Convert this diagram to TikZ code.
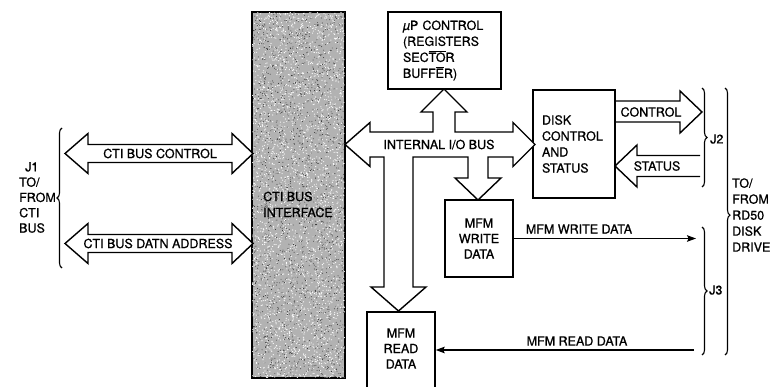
\documentclass[tikz,border=0pt]{standalone}
\usepackage{fontspec}
\setmainfont{TeX Gyre Heros}[FakeBold=0.9]
\usetikzlibrary{arrows.meta,decorations.pathreplacing,calc}
\newcommand\ovbar[1]{\setbox0\hbox{#1}\rlap{\raisebox{\dimexpr\ht0+1.3pt\relax}{\rule{\wd0}{0.6pt}}}\box0}
\begin{document}
\begin{tikzpicture}[x=1pt,y=-1pt,
  every node/.style={font=\fontsize{12.5}{16}\selectfont, inner sep=0pt},
  box/.style={draw, line width=1.4pt},
  blk/.style={draw, line width=1.4pt, line join=miter, fill=white},
  brc/.style={draw, line width=1.1pt, decorate, decoration={brace, amplitude=5pt}},
  sig/.style={draw, line width=1.4pt, -{Stealth[length=9pt,width=6.5pt,inset=1.5pt]}},
]
\useasboundingbox (0,0) rectangle (779,387);
\clip (0,0) rectangle (779,387);

% CTI bus interface (stippled)
\node[box, fill=black!30, minimum width=93pt, minimum height=366pt] (ifc) at (298.5,195) {};
\pgfmathsetseed{7}
\begin{scope}
\clip (252,12) rectangle (345,378);
\foreach \i in {1,...,3000} {\fill[white] ({252+93*rnd},{12+366*rnd}) circle (0.6);}
\foreach \i in {1,...,1800} {\fill[black!85] ({252+93*rnd},{12+366*rnd}) circle (0.45);}
\end{scope}
\draw[line width=1.4pt] (ifc.north west) rectangle (ifc.south east);
\node[align=left, anchor=west] (ifclbl) at (263,204.5) {CTI BUS\\INTERFACE};

% CTI side block arrows
\draw[blk] (65,153.5) -- (88,133.5) -- (88,144.5) -- (232,144.5) -- (232,133.5) -- (253,153.5)
  -- (232,173.5) -- (232,162.5) -- (88,162.5) -- (88,173.5) -- cycle;
\node (ctictl) at (160,153.5) {CTI BUS CONTROL};
\draw[blk] (65,243.5) -- (88,223.5) -- (88,234.5) -- (232,234.5) -- (232,223.5) -- (253,243.5)
  -- (232,263.5) -- (232,252.5) -- (88,252.5) -- (88,263.5) -- cycle;
\node (ctidat) at (158,243.5) {CTI BUS DATN ADDRESS};

% left brace and J1 label
\draw[brc] (62,268) -- (62,128);
\node[align=left, anchor=west, font=\fontsize{12.5}{15.3}\selectfont] (j1) at (19,197.5) {\hspace*{6pt}J1\\TO/\\FROM\\CTI\\BUS};

% boxes
\node[box, minimum width=113pt, minimum height=77pt, text width=83pt, inner xsep=15pt, align=left] (mup) at (444.5,50.5)
  {{\itshape µ}P CONTROL\\(REGISTERS\\SEC\ovbar{TO}R\\BUFF\ovbar{E}R)};
\node[box, minimum width=82pt, minimum height=108pt, text width=64pt, inner xsep=9pt, align=left] (disk) at (574,144)
  {DISK\\CONTROL\\AND\\STATUS};
\node[box, minimum width=68pt, minimum height=77pt, align=center, font=\fontsize{12.5}{15.5}\selectfont] (write) at (479,238.5)
  {MFM\\WRITE\\DATA};
\node[box, minimum width=68pt, minimum height=90pt] (read) at (401,357) {};
\node[align=center, font=\fontsize{12.5}{15.5}\selectfont] (readlbl) at (401,348.5) {MFM\\READ\\DATA};

% internal I/O bus
\draw[blk] (345,144.5) -- (370,122.5) -- (370,132) -- (433,132) -- (433,112) -- (421,112) -- (444,89)
  -- (467,112) -- (455,112) -- (455,132) -- (513,132) -- (513,122.5) -- (535,144.5) -- (513,166.5)
  -- (513,157) -- (488,157) -- (488,178) -- (501,178) -- (478,200) -- (455,178) -- (468,178)
  -- (468,157) -- (413,157) -- (413,287) -- (426,287) -- (398.5,311) -- (371,287) -- (384,287)
  -- (384,157) -- (370,157) -- (370,166.5) -- cycle;
\node (busl) at (439,144.5) {INTERNAL I/O BUS};

% control / status block arrows
\draw[line width=1.4pt, line join=miter] (615,101) -- (680,101) -- (680,91) -- (702,112) -- (680,133) -- (680,122) -- (615,122);
\node (ctl) at (651,112) {CONTROL};
\draw[line width=1.4pt, line join=miter] (700,155.5) -- (637,155.5) -- (637,145) -- (615,166) -- (637,187) -- (637,176.5) -- (700,176.5);
\node (sts) at (657,166) {STATUS};

% MFM signals
\coordinate (wend) at (696,238.5);
\draw[sig] (write.east) -- (wend);
\node (wlbl) at (579,229) {MFM WRITE DATA};
\coordinate (rstart) at (694,350);
\draw[sig] (rstart) -- (read.east |- rstart);
\node (rlbl) at (577,341) {MFM READ DATA};

% right braces and labels
\draw[brc] (702,88) -- (702,187);
\node[anchor=west] (j2) at (710,139) {J2};
\draw[brc] (702,227) -- (702,355);
\node[anchor=west] (j3) at (709,290) {J3};
\draw[brc, decoration={brace, amplitude=5pt, aspect=0.476}] (725,88) -- (725,355);
\node[align=left, anchor=west] (rd50) at (732,215) {TO/\\FROM\\RD50\\DISK\\DRIVE};
\end{tikzpicture}
\end{document}
